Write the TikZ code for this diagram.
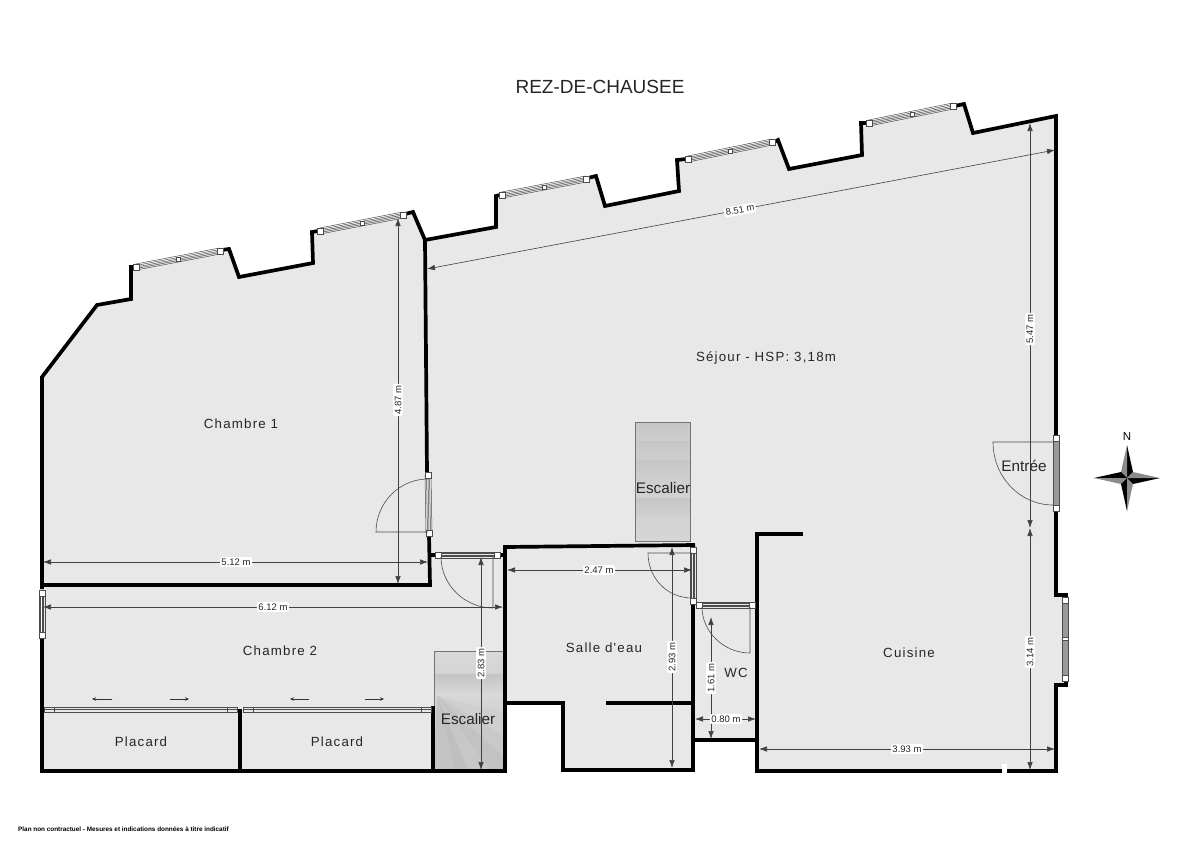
\documentclass[tikz,border=0pt]{standalone}
\usepackage{fontspec}
\setmainfont{Liberation Sans}
\newfontfamily\roomfont[LetterSpace=9]{Liberation Sans}
\usetikzlibrary{arrows.meta,calc}
\definecolor{floorgray}{HTML}{E8E8E8}
\tikzset{
  wall/.style={line width=3.7pt, line join=miter, black},
  thin line/.style={line width=0.6pt, draw=black!70},
  dimline/.style={line width=0.6pt, draw=black!75, {Latex[length=8pt,width=5.5pt]}-{Latex[length=8pt,width=5.5pt]}},
  dimlabel/.style={fill=white, rounded corners=2pt, inner sep=1.5pt, font=\fontsize{9.5}{9.5}\selectfont, text=black!85},
  room/.style={font=\roomfont\fontsize{13.3}{14}\selectfont, text=black!85},
  stairlabel/.style={font=\fontsize{15.3}{15}\selectfont, text=black!85},
  sqr/.style={draw=black!70, fill=white, line width=0.5pt, minimum size=6pt, inner sep=0pt},
  slide/.style={line width=0.6pt, draw=black!80, -{Stealth[length=4pt,width=3.5pt]}},
}
% window bar between two named points
\newcommand{\winbar}[2]{
\foreach \o in {-3,-1.5,0,1.5,3}
  \draw[line width=0.5pt, black!70] ($(#1)!\o pt!90:(#2)$) -- ($(#2)!\o pt!-90:(#1)$);
}
\newcommand{\dimarrow}[6]{
\coordinate (#1a) at (#2);
\coordinate (#1b) at (#3);
\draw[dimline] (#1a) -- (#1b);
\node[dimlabel, rotate=#6] (#1) at (#5) {#4};
}
\begin{document}
\begin{tikzpicture}[x=1pt,y=-1pt]
\useasboundingbox (0,0) rectangle (1200,849);
% floor
\fill[floorgray] (42,377) -- (97,305) -- (131,299) -- (131,268) -- (229,249) -- (239,277) -- (313,263) -- (312,232) -- (413,212) -- (425,240) -- (496,227) -- (496,196) -- (596,176) -- (605,206) -- (679,191) -- (677,160) -- (778,140) -- (789,169) -- (862,155) -- (861,123) -- (964,104) -- (973,133) -- (1056,116) -- (1056,595) -- (1066,595) -- (1066,685) -- (1056,685) -- (1056,771) -- (757,771) -- (757,740) -- (693,740) -- (693,771) -- (563,771) -- (563,703) -- (505,703) -- (505,771) -- (42,771) -- cycle;
% stairs
\foreach \ya/\yb/\ct/\cb in {422/441/C6C6C6/CECECE,441/460/C6C6C6/CECECE,460/479/C6C6C6/CECECE,479/498/CECECE/D2D2D2,498/515/C6C6C6/CECECE,515/541/D2D2D2/D6D6D6}{
  \definecolor{ctop}{HTML}{\ct}
  \definecolor{cbot}{HTML}{\cb}
  \shade[top color=ctop, bottom color=cbot] (635,\ya) rectangle (690,\yb);
}
\draw[line width=0.7pt, black!55] (635,422) rectangle (690,541);
\shade[top color=black!15, bottom color=black!17] (434,651) rectangle (503,674);
\shade[top color=black!23, bottom color=black!16] (434,674) rectangle (503,692);
\shade[top color=black!15, bottom color=black!25] (434,692) rectangle (503,770);
\foreach \ex/\ey/\fx/\fy/\g in {503/712/503/735/19,503/735/503/756/21,503/756/490/770/24,490/770/468/770/22,468/770/455/770/25,455/770/434/770/23}{
  \fill[black!\g] (437,696) -- (\ex,\ey) -- (\fx,\fy) -- cycle;
}
\draw[line width=0.7pt, black!55] (434,770) -- (434,651) -- (503,651) -- (503,770);
% walls
\draw[wall] (42,589) -- (42,377) -- (97,305) -- (131,299) -- (131,267) -- (134,267);
\draw[wall] (222,250) -- (229,249) -- (239,277) -- (313,263) -- (312,232) -- (318,231);
\draw[wall] (405,214) -- (413,212) -- (425,240) -- (496,227) -- (496,196) -- (500,195);
\draw[wall] (588,178) -- (596,176) -- (605,206) -- (679,191) -- (677,160) -- (686,159);
\draw[wall] (774,142) -- (778,140) -- (789,169) -- (862,155) -- (861,123) -- (867,123);
\draw[wall] (955,106) -- (964,104) -- (973,133) -- (1056,116) -- (1056,436);
\draw[wall] (1056,510) -- (1056,595) -- (1066,595) -- (1066,598);
\draw[wall] (1066,682) -- (1066,685) -- (1056,685) -- (1056,771) -- (757,771) -- (757,534) -- (803,534);
\draw[wall] (42,636) -- (42,771) -- (505,771) -- (505,703) -- (563,703) -- (563,770) -- (693,770) -- (693,604);
\draw[wall] (425,240) -- (427,473);
\draw[wall] (429,535) -- (430,585) -- (42,585);
\draw[wall] (431,555) -- (436,555);
\draw[wall] (499,555) -- (505,555);
\draw[wall] (505,703) -- (505,547) -- (695,545);
\draw[wall] (606,703) -- (693,703);
\draw[wall] (693,740) -- (757,740);
\draw[wall] (240,709) -- (240,771);
\draw[wall] (433,706) -- (433,771);
\fill[white] (1002,764) rectangle (1007,775);
% windows
\foreach \n/\xa/\ya/\xb/\yb/\xc/\yc in {wa/136/267/178/259/220/251,wb/320/231/362/223/403/215,wc/502/195/544/187/586/179,wd/688/159/730/151/772/142,we/869/123/912/114/953/106}{
  \coordinate (\n1) at (\xa,\ya);
  \coordinate (\n3) at (\xc,\yc);
  \winbar{\n1}{\n3}
  \node[sqr] (\n l) at (\xa,\ya){};
  \node[sqr, minimum size=4.5pt] (\n m) at (\xb,\yb){};
  \node[sqr] (\n r) at (\xc,\yc){};
}
\foreach \n/\xa/\ya/\xc/\yc in {wf/42/593/42/635,wg/428/475/429/533,wh/438/555/497/555,wi/693/550/693/601,wj/699/605/752/605}{
  \coordinate (\n1) at (\xa,\ya);
  \coordinate (\n3) at (\xc,\yc);
  \winbar{\n1}{\n3}
  \node[sqr] (\n l) at (\xa,\ya){};
  \node[sqr] (\n r) at (\xc,\yc){};
}
% filled windows on the right wall
\fill[black!40] (1053,438) rectangle (1059,508);
\draw[line width=0.5pt, black!70] (1053,438) rectangle (1059,508);
\node[sqr] (entreetop) at (1056,438){};
\node[sqr] (entreebot) at (1056,508){};
\fill[black!40] (1062,600) rectangle (1068,678);
\draw[line width=0.5pt, black!70] (1062,600) rectangle (1068,678);
\node[sqr] (wkl) at (1065,600){};
\node[sqr, minimum height=3pt] (wkm) at (1065,639){};
\node[sqr] (wkr) at (1065,678){};
% door leaves and swings
\draw[thin line] (428,532) -- (376,532) .. controls (376,503) and (399,479) .. (428,479);
\draw[thin line] (441,557) .. controls (441,585) and (465,608) .. (493,608) -- (493,557);
\draw[thin line] (692,553) -- (648,553) .. controls (648,578) and (667,598) .. (692,598);
\draw[thin line] (702,607) .. controls (702,632) and (724,653) .. (750,653) -- (750,607);
\draw[thin line] (1053,442) -- (993,442) .. controls (993,477) and (1020,505) .. (1053,505);
% sliding doors
\foreach \xa/\xb/\xs/\xe in {44/237/54/227,243/431/253/421}{
  \draw[line width=0.5pt, black!70, fill=floorgray] (\xa,707) rectangle (\xb,712);
  \draw[line width=0.5pt, black!70] (\xa,709.5) -- (\xb,709.5);
  \draw[line width=0.5pt, black!70] (\xs,707) -- (\xs,712);
  \draw[line width=0.5pt, black!70] (\xe,707) -- (\xe,712);
}
\draw[slide] (112,699) -- (92,699);
\draw[slide] (170,699) -- (189,699);
\draw[slide] (309,699) -- (290,699);
\draw[slide] (365,699) -- (384,699);
% dimensions
\dimarrow{dfive}{43,562}{428,562}{5.12 m}{236,562}{0}
\dimarrow{dfour}{398,218}{398,584}{4.87 m}{398,400}{90}
\dimarrow{dsix}{43,607}{503,607}{6.12 m}{273,607}{0}
\dimarrow{dtwoa}{481,557}{481,770}{2.83 m}{481,663}{90}
\dimarrow{dtwob}{507,570}{692,570}{2.47 m}{599,570}{0}
\dimarrow{dtwoc}{672,547}{672,768}{2.93 m}{672,657}{90}
\dimarrow{done}{711,617}{711,739}{1.61 m}{711,678}{90}
\dimarrow{dzero}{695,719}{756,719}{0.80 m}{726,719}{0}
\dimarrow{dthree}{759,749}{1055,749}{3.93 m}{907,749}{0}
\dimarrow{dthreeb}{1030,528}{1030,770}{3.14 m}{1030,652}{90}
\dimarrow{dfiveb}{1030,123}{1030,528}{5.47 m}{1030,329}{90}
\dimarrow{deight}{427,269}{1055,150}{8.51 m}{740,210}{10.7}
% rooms
\node[room] (chambreone) at (241,424) {Chambre 1};
\node[room] (chambretwo) at (280,651) {Chambre 2};
\node[room] (sejour) at (766,358) {Séjour - HSP: 3,18m};
\node[room] (placardone) at (141,742) {Placard};
\node[room] (placardtwo) at (337,742) {Placard};
\node[room] (salle) at (604,648) {Salle d'eau};
\node[room] (wc) at (736,673) {WC};
\node[room] (cuisine) at (909,653) {Cuisine};
\node[stairlabel] (escalierone) at (663,488) {Escalier};
\node[stairlabel] (escaliertwo) at (468,719) {Escalier};
\node[stairlabel] (entree) at (1024,466) {Entrée};
% compass
\coordinate (north) at (1127,478);
\foreach \a in {0,90,180,270}{
  \begin{scope}[shift={(north)}, rotate=\a]
  \fill[black] (0,0) -- (0,-33) -- (6,-6) -- cycle;
  \fill[black!45] (0,0) -- (0,-33) -- (-6,-6) -- cycle;
  \end{scope}
}
\node[font=\fontsize{11.5}{11}\selectfont] (northlabel) at (1127,437) {N};
% title and footer
\node[font=\fontsize{19}{19}\selectfont, text=black!85] (title) at (600,87) {REZ-DE-CHAUSEE};
\node[font=\bfseries\fontsize{6.37}{7}\selectfont, anchor=west, inner sep=0pt] (footer) at (18,829) {Plan non contractuel - Mesures et indications données à titre indicatif};
\end{tikzpicture}
\end{document}
